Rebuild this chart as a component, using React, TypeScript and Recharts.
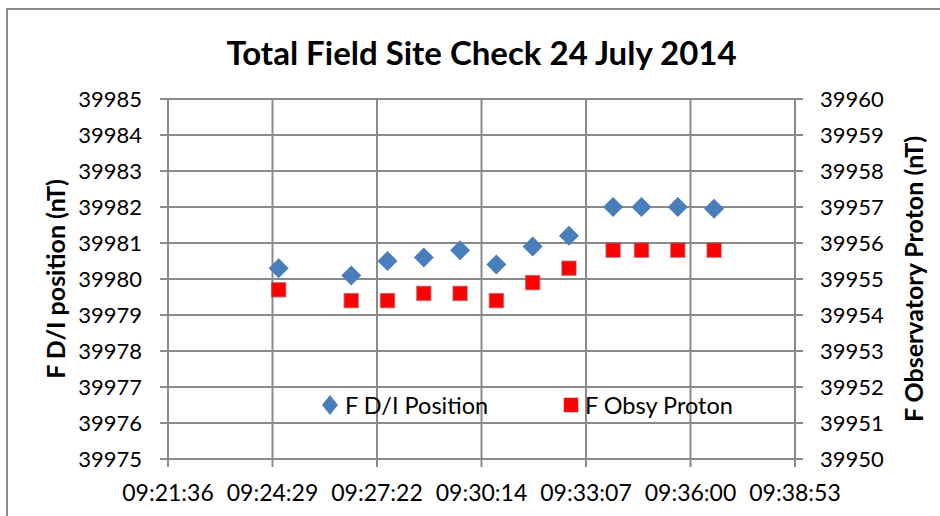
import React from 'react';
import { ScatterChart, Scatter, XAxis, YAxis, CartesianGrid } from 'recharts';

// readings, 24 July 2014 (times as hh:mm:ss)
const times = ['09:24:39', '09:26:39', '09:27:39', '09:28:39', '09:29:39', '09:30:39', '09:31:39', '09:32:39', '09:33:52', '09:34:39', '09:35:39', '09:36:39'];
const fDIPosition = [39980.3, 39980.1, 39980.5, 39980.6, 39980.8, 39980.4, 39980.9, 39981.2, 39982.0, 39982.0, 39982.0, 39981.95];
const fObsyProton = [39954.7, 39954.4, 39954.4, 39954.6, 39954.6, 39954.4, 39954.9, 39955.3, 39955.8, 39955.8, 39955.8, 39955.8];

// axis ticks (x in seconds of day: 0.390 .. 0.402 day, step 0.002 day)
const xTicks = [33696, 33868.8, 34041.6, 34214.4, 34387.2, 34560, 34732.8];
const leftTicks = [39975, 39976, 39977, 39978, 39979, 39980, 39981, 39982, 39983, 39984, 39985];
const rightTicks = [39950, 39951, 39952, 39953, 39954, 39955, 39956, 39957, 39958, 39959, 39960];

const toSec = (s: string) => {
  const [h, m, sec] = s.split(':').map(Number);
  return h * 3600 + m * 60 + sec;
};
const fmtTime = (v: number) => {
  const r = Math.round(v);
  const h = Math.floor(r / 3600);
  const m = Math.floor((r % 3600) / 60);
  const s = r % 60;
  return [h, m, s].map(n => String(n).padStart(2, '0')).join(':');
};

const rows = times.map((t, i) => ({ t: toSec(t), di: fDIPosition[i], obsy: fObsyProton[i] }));

const FONT = 'Lato, "Open Sans", sans-serif';
const GRID = '#8a8a8a';
const BLUE = '#4a7ebb';
const RED = '#ff0000';

const Diamond = (p: any) => {
  const { cx, cy } = p;
  const r = 10;
  return <polygon points={`${cx},${cy - r} ${cx + r},${cy} ${cx},${cy + r} ${cx - r},${cy}`} fill={BLUE} />;
};
const Square = (p: any) => {
  const { cx, cy } = p;
  return <rect x={cx - 7} y={cy - 7} width={14} height={14} fill={RED} stroke="#c0393b" strokeOpacity={0.6} strokeWidth={1.5} />;
};

// legend drawn inside the plot area, as in the original
const LegendBox = () => (
  <div style={{ position: 'absolute', left: 0, top: 390, width: 940, height: 30, fontFamily: FONT, fontSize: 23.5, color: '#000' }}>
    <svg width={18} height={22} style={{ position: 'absolute', left: 321, top: 4 }}>
      <polygon points="9,1 17,11 9,21 1,11" fill={BLUE} />
    </svg>
    <span style={{ position: 'absolute', left: 345, top: 0, lineHeight: '30px' }}>F D/I Position</span>
    <svg width={16} height={16} style={{ position: 'absolute', left: 563, top: 7 }}>
      <rect x={1} y={1} width={14} height={14} fill={RED} stroke="#c0393b" strokeOpacity={0.6} />
    </svg>
    <span style={{ position: 'absolute', left: 585, top: 0, lineHeight: '30px' }}>F Obsy Proton</span>
  </div>
);

const tickStyle = { fontFamily: FONT, fontSize: 22, fill: '#000' };
const xTickStyle = { fontFamily: FONT, fontSize: 23, fill: '#000' };
const titleStyle = { fontFamily: FONT, fontSize: 25, fontWeight: 700, fill: '#000' };

const LeftTitle = ({ viewBox }: any) => {
  const cy = viewBox.y + viewBox.height / 2;
  return (
    <text x={55} y={cy} transform={`rotate(-90 55 ${cy})`} textAnchor="middle" dominantBaseline="central" style={titleStyle}>
      F D/I position (nT)
    </text>
  );
};
const RightTitle = ({ viewBox }: any) => {
  const cy = viewBox.y + viewBox.height / 2;
  return (
    <text x={913} y={cy} transform={`rotate(-90 913 ${cy})`} textAnchor="middle" dominantBaseline="central" style={titleStyle}>
      F Observatory Proton (nT)
    </text>
  );
};

export default function App() {
  return (
    <div style={{ position: 'absolute', left: 0, top: 0, width: 940, height: 516, overflow: 'hidden', background: '#fff' }}>
      <div style={{ position: 'absolute', left: 6, top: 8, width: 1000, height: 1000, borderLeft: `2px solid ${GRID}`, borderTop: `2px solid ${GRID}` }} />
      <div style={{ position: 'absolute', left: 0, top: 30, width: 963, textAlign: 'center', fontFamily: FONT, fontSize: 33, fontWeight: 700, color: '#000', lineHeight: '44px' }}>
        Total Field Site Check 24 July 2014
      </div>
      <ScatterChart width={940} height={516} margin={{ top: 99, right: 0, bottom: 0, left: 0 }} style={{ position: 'absolute', left: 0, top: 0 }}>
        <CartesianGrid yAxisId="left" stroke={GRID} strokeWidth={2} />
        <XAxis
          dataKey="t"
          type="number"
          domain={[33696, 34732.8]}
          ticks={xTicks}
          tickFormatter={fmtTime}
          allowDataOverflow
          height={57}
          tickSize={8}
          tickMargin={18}
          stroke={GRID}
          strokeWidth={2}
          tick={xTickStyle}
        />
        <YAxis
          yAxisId="left"
          dataKey="di"
          type="number"
          domain={[39975, 39985]}
          ticks={leftTicks}
          allowDataOverflow
          width={168}
          tickSize={8}
          tickMargin={18}
          stroke={GRID}
          strokeWidth={2}
          tick={tickStyle}
          label={<LeftTitle />}
        />
        <YAxis
          yAxisId="right"
          orientation="right"
          dataKey="obsy"
          type="number"
          domain={[39950, 39960]}
          ticks={rightTicks}
          allowDataOverflow
          width={145}
          tickSize={8}
          tickMargin={17}
          stroke={GRID}
          strokeWidth={2}
          tick={tickStyle}
          label={<RightTitle />}
        />
        <Scatter name="F D/I Position" data={rows} dataKey="di" yAxisId="left" shape={Diamond} isAnimationActive={false} />
        <Scatter name="F Obsy Proton" data={rows} dataKey="obsy" yAxisId="right" shape={Square} isAnimationActive={false} />
      </ScatterChart>
      <LegendBox />
    </div>
  );
}
